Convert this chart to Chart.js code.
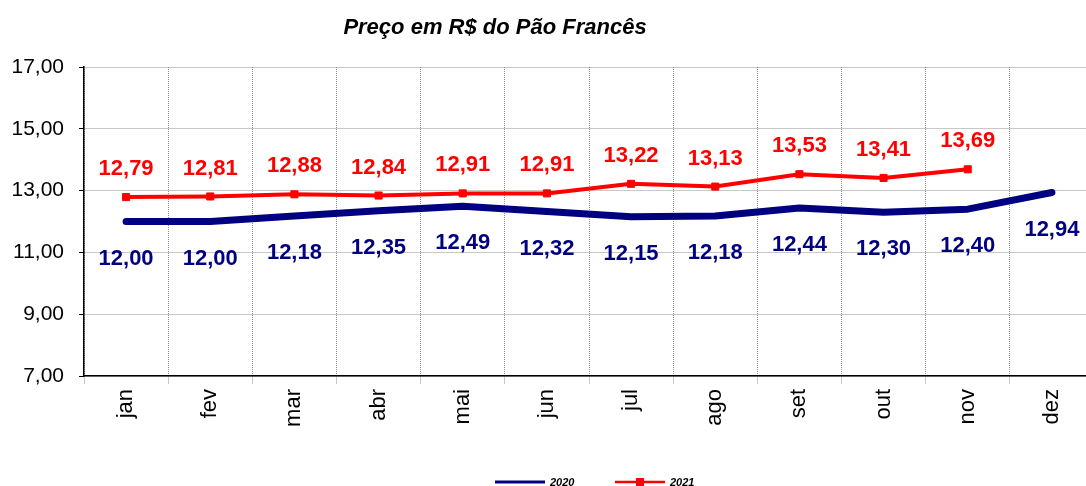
<!DOCTYPE html>
<html>
<head>
<meta charset="utf-8">
<script src="https://cdn.jsdelivr.net/npm/chart.js@4/dist/chart.umd.min.js"></script>
<style>
  html, body { margin: 0; padding: 0; background: #fff; overflow: hidden; }
  #wrap { width: 1100px; height: 486px; }
</style>
</head>
<body>
<div id="wrap"><canvas id="chart" width="1100" height="486"></canvas></div>
<script>
const meses = ["jan","fev","mar","abr","mai","jun","jul","ago","set","out","nov","dez"];
const preco2020 = [12.00, 12.00, 12.18, 12.35, 12.49, 12.32, 12.15, 12.18, 12.44, 12.30, 12.40, 12.94];
const preco2021 = [12.79, 12.81, 12.88, 12.84, 12.91, 12.91, 13.22, 13.13, 13.53, 13.41, 13.69, null];
const yTicks = [7, 9, 11, 13, 15, 17];

const FONT = "'Liberation Sans', Arial, sans-serif";
const fmt = v => v.toFixed(2).replace(".", ",");

// rotulos de valor em cada ponto
const valueLabels = {
  id: "valueLabels",
  afterDatasetsDraw(chart) {
    const ctx = chart.ctx;
    ctx.save();
    ctx.font = "bold 22px " + FONT;
    ctx.textAlign = "center";
    ctx.textBaseline = "middle";
    chart.data.datasets.forEach((ds, i) => {
      const meta = chart.getDatasetMeta(i);
      meta.data.forEach((pt, j) => {
        const v = ds.data[j];
        if (v == null) return;
        ctx.fillStyle = ds.borderColor;
        const dy = i === 0 ? 37 : -28;
        ctx.fillText(fmt(v), pt.x, pt.y + dy);
      });
    });
    ctx.restore();
  }
};

// titulo e legenda desenhados a mao (posicao fora do centro)
const extras = {
  id: "extras",
  afterDraw(chart) {
    const ctx = chart.ctx;
    ctx.save();
    ctx.fillStyle = "#000";
    ctx.font = "italic bold 22px " + FONT;
    ctx.textAlign = "center";
    ctx.textBaseline = "middle";
    ctx.fillText("Preço em R$ do Pão Francês", 495, 28);

    const y = 482;
    const items = [
      { ds: chart.data.datasets[0], x: 495 },
      { ds: chart.data.datasets[1], x: 615 }
    ];
    ctx.font = "italic bold 11px " + FONT;
    ctx.textAlign = "left";
    items.forEach(it => {
      ctx.strokeStyle = it.ds.borderColor;
      ctx.lineWidth = it.ds.label === "2020" ? 3 : 2.5;
      ctx.beginPath();
      ctx.moveTo(it.x, y);
      ctx.lineTo(it.x + 50, y);
      ctx.stroke();
      if (it.ds.label === "2021") {
        ctx.fillStyle = it.ds.borderColor;
        ctx.fillRect(it.x + 21, y - 4, 8, 8);
      }
      ctx.fillStyle = "#000";
      ctx.fillText(it.ds.label, it.x + 55, y + 1);
    });
    ctx.restore();
  }
};

new Chart(document.getElementById("chart"), {
  type: "line",
  data: {
    labels: meses,
    datasets: [
      {
        label: "2020",
        data: preco2020,
        borderColor: "#000080",
        backgroundColor: "#000080",
        borderWidth: 7,
        borderCapStyle: "round",
        borderJoinStyle: "round",
        pointRadius: 0,
        tension: 0
      },
      {
        label: "2021",
        data: preco2021,
        borderColor: "#ff0000",
        backgroundColor: "#ff0000",
        borderWidth: 4,
        pointStyle: "rect",
        pointRadius: 5,
        pointBorderWidth: 1,
        tension: 0
      }
    ]
  },
  options: {
    responsive: false,
    animation: false,
    devicePixelRatio: 1,
    layout: { padding: { top: 67, right: 2, left: 0, bottom: 0 } },
    plugins: {
      legend: { display: false },
      title: { display: false },
      tooltip: { enabled: false }
    },
    scales: {
      x: {
        offset: true,
        grid: {
          offset: true,
          color: "#909090",
          tickLength: 8,
          tickColor: "#909090",
          tickBorderDash: [1, 1]
        },
        border: { color: "#000", width: 1.5, dash: [1, 1] },
        ticks: {
          color: "#000",
          font: { family: FONT, size: 22 },
          minRotation: 90,
          maxRotation: 90,
          padding: 5,
          autoSkip: false
        },
        afterFit(scale) { scale.height = 110; }
      },
      y: {
        min: 7,
        max: 17,
        afterBuildTicks(scale) { scale.ticks = yTicks.map(v => ({ value: v })); },
        grid: {
          color: "#909090",
          tickLength: 5,
          tickColor: "#000",
          tickBorderDash: []
        },
        border: { color: "#000", width: 1.5, dash: [1, 1] },
        ticks: {
          color: "#000",
          font: { family: FONT, size: 21 },
          padding: 15,
          callback: v => fmt(v)
        },
        afterFit(scale) { scale.width = 84; }
      }
    }
  },
  plugins: [valueLabels, extras]
});
</script>
</body>
</html>
